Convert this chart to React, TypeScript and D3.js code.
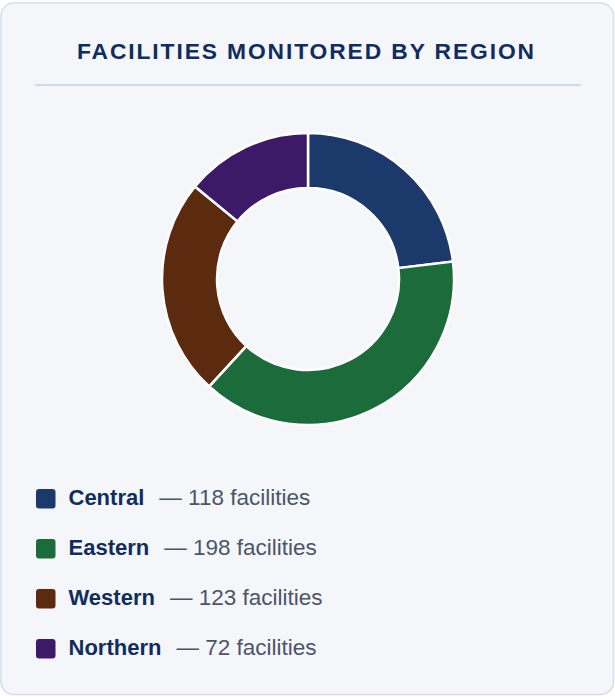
import React from "react";
import * as d3 from "d3";

const regions = ["Central", "Eastern", "Western", "Northern"];
const facilities = [118, 198, 123, 72];
const colors = ["#1b3a6b", "#1b6b3b", "#5c2a0f", "#3c1a68"];
const title = "FACILITIES MONITORED BY REGION";

const W = 615;
const H = 697;

export default function App() {
  const data = regions.map((r, i) => ({ region: r, value: facilities[i], color: colors[i] }));
  const pie = d3
    .pie<any>()
    .value((d: any) => d.value)
    .sort(null)
    .startAngle(0)
    .endAngle(2 * Math.PI);
  const arcs = pie(data);
  const arc = d3.arc<any>().innerRadius(91).outerRadius(146);
  const cx = 308;
  const cy = 279;

  return (
    <svg
      width={W}
      height={H}
      style={{ position: "absolute", left: 0, top: 0, fontFamily: "'Liberation Sans', Arial, sans-serif" }}
    >
      <rect x={1} y={3} width={612.5} height={691.5} rx={13} fill="#f5f6fa" stroke="#d6deeb" strokeWidth={1.6} />
      <text x={77} y={59} fontSize={22.8} fontWeight="bold" fill="#0f2d5e" letterSpacing={1.9}>
        {title}
      </text>
      <line x1={35} x2={581} y1={85} y2={85} stroke="#d0dae8" strokeWidth={2} />
      <g transform={`translate(${cx},${cy})`}>
        {arcs.map((a, i) => (
          <path key={i} d={arc(a) as string} fill={a.data.color} stroke="#ffffff" strokeWidth={2.5} />
        ))}
      </g>
      {data.map((d, i) => {
        const y = 489 + i * 50;
        return (
          <g key={d.region}>
            <rect x={36} y={y} width={19.5} height={19.5} rx={3} fill={d.color} />
            <text x={68.5} y={y + 15.5} fontSize={22}>
              <tspan fontWeight="bold" fill="#0f2d5e">{d.region}</tspan>
              <tspan dx={15} fill="#4a5568" fontSize={22.5}>{`— ${d.value} facilities`}</tspan>
            </text>
          </g>
        );
      })}
    </svg>
  );
}
